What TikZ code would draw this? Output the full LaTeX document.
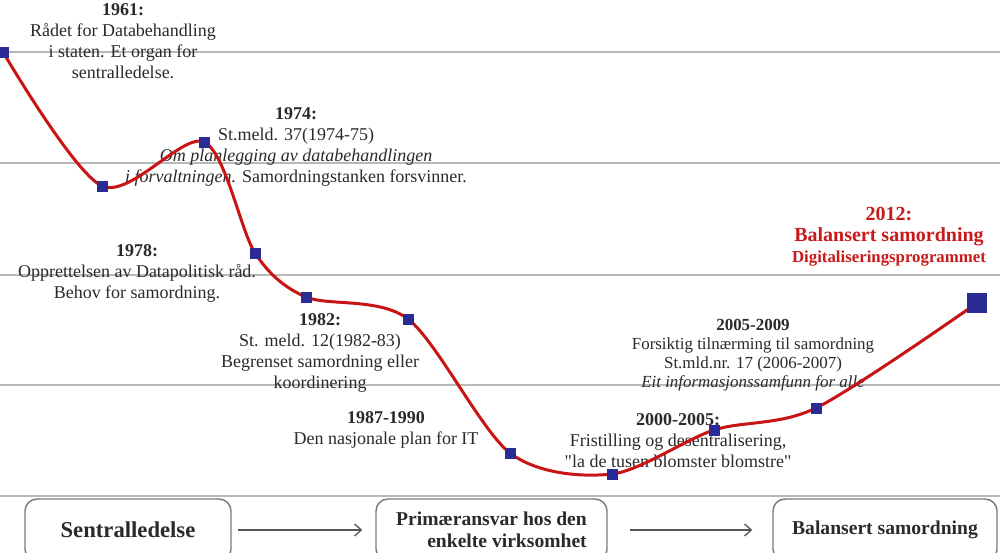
\documentclass[tikz,border=0pt]{standalone}
\usepackage{fontspec}
\setmainfont{Liberation Serif}[Ligatures=TeXOff]
\usetikzlibrary{arrows.meta}
\definecolor{curvered}{HTML}{C81414}
\definecolor{sqblue}{HTML}{2B2B96}
\definecolor{gridgray}{HTML}{B8B8B8}
\definecolor{txt}{HTML}{2A2A2A}
\definecolor{boxgray}{HTML}{7A7A7A}
\definecolor{redtxt}{HTML}{C81A1A}
\begin{document}
\begin{tikzpicture}[x=0.75pt,y=-0.75pt,
 gridline/.style={gridgray,line width=1.5pt},
 lbl/.style={align=center,text=txt,font=\fontsize{13.5}{15.75}\selectfont,inner sep=0pt},
 lblsmall/.style={lbl,font=\fontsize{12.7}{14.25}\selectfont},
 redlbl/.style={align=center,text=redtxt,inner sep=0pt},
 sq/.style={fill=sqblue,minimum size=8.25pt,inner sep=0pt,draw=none},
 bigsq/.style={sq,minimum size=15pt},
 curve/.style={curvered,line width=2.25pt},
 stagebox/.style={draw=boxgray,line width=1.1pt,rounded corners=9pt,minimum height=46.5pt,inner sep=0pt,text=txt,font=\bfseries\fontsize{14.7}{16.5}\selectfont},
 stagearrow/.style={draw=boxgray!70!black,line width=1pt,-{Straight Barb[length=5pt,width=9pt]}},
]
\useasboundingbox (0,0) rectangle (1000,553);
\clip (0,0) rectangle (1000,553);
\fill[white] (0,0) rectangle (1000,553);
\foreach \y in {52,163,275,385,496} \draw[gridline] (0,\y) -- (1000,\y);

% labels
\node[lbl] (t1961) at (123,41.5) {\textbf{1961:}\\Rådet for Databehandling\\i staten. Et organ for\\sentralledelse.};
\node[lbl] (t1974) at (296,147) {\textbf{1974:}\\St.meld. 37(1974-75)\\\textit{Om planlegging av databehandlingen}\\\textit{i forvaltningen.} Samordningstanken forsvinner.};
\node[lbl] (t1978) at (137,273) {\textbf{1978:}\\Opprettelsen av Datapolitisk råd.\\Behov for samordning.};
\node[lbl] (t1982) at (320,352.5) {\textbf{1982:}\\St. meld. 12(1982-83)\\Begrenset samordning eller\\koordinering};
\node[lbl] (t1987) at (386,430) {\textbf{1987-1990}\\Den nasjonale plan for IT};
\node[lbl] (t2000) at (678,440.5) {\textbf{2000-2005:}\\Fristilling og desentralisering,\\"la de tusen blomster blomstre"};
\node[lblsmall] (t2005) at (753,355) {\textbf{2005-2009}\\Forsiktig tilnærming til samordning\\St.mld.nr. 17 (2006-2007)\\\textit{Eit informasjonssamfunn for alle}};
\node[redlbl,font=\bfseries\fontsize{15}{18}\selectfont] (t2012a) at (889,214) {2012:};
\node[redlbl,font=\bfseries\fontsize{15}{18}\selectfont] (t2012b) at (889,237) {Balansert samordning};
\node[redlbl,font=\bfseries\fontsize{12.6}{15}\selectfont] (t2012c) at (889,259) {Digitaliseringsprogrammet};

% curve points
\coordinate (p1) at (3,52);
\coordinate (p2) at (102,186);
\coordinate (p3) at (204,142);
\coordinate (p4) at (255,253);
\coordinate (p5) at (306,297);
\coordinate (p6) at (408,319);
\coordinate (p7) at (510,453);
\coordinate (p8) at (612,474);
\coordinate (p9) at (714,430);
\coordinate (p10) at (816,408);
\coordinate (p11) at (977,303);
\draw[curve] plot[smooth] coordinates {(p1) (p2) (p3) (p4) (p5) (p6) (p7) (p8) (p9) (p10) (p11)};
\foreach \p in {p1,p2,p3,p4,p5,p6,p7,p8,p9,p10} \node[sq] (s\p) at (\p) {};
\node[bigsq] (sp11) at (p11) {};

% stage boxes
\node[stagebox,minimum width=154.5pt] (b1) at (128,530) {\fontsize{17}{19}\selectfont Sentralledelse};
\node[stagebox,minimum width=173.25pt,align=right] (b2) at (491.5,530) {Primæransvar hos den\\enkelte virksomhet};
\node[stagebox,minimum width=168pt] (b3) at (885,530) {Balansert samordning};
\draw[stagearrow,shorten <=4.5pt,shorten >=9.75pt] (b1.east) -- (b2.west);
\draw[stagearrow,shorten <=17pt,shorten >=15pt] (b2.east) -- (b3.west);
\end{tikzpicture}
\end{document}
